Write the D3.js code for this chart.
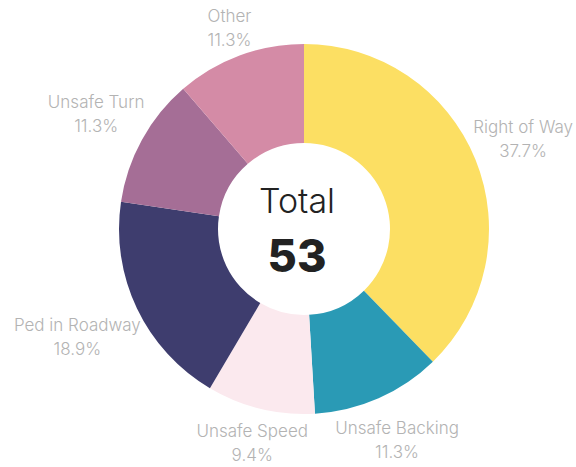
<!DOCTYPE html>
<html>
<meta charset="utf-8">
<style>
  body { margin: 0; background: #fff; }
  text { font-family: Inter, Roboto, "Noto Sans", sans-serif; }
</style>
<script src="https://d3js.org/d3.v7.min.js"></script>
<body>
<script>
  var svgWidth = 576, svgHeight = 467;

  var labels = ["Right of Way", "Unsafe Backing", "Unsafe Speed", "Ped in Roadway", "Unsafe Turn", "Other"];
  var counts = [20, 6, 5, 10, 6, 6];
  var colors = ["#fcdf63", "#2a9ab5", "#fbe9ee", "#3e3d6e", "#a56e96", "#d48ba6"];

  var total = d3.sum(counts);
  var data = labels.map(function(l, i){ return { label: l, value: counts[i] }; });

  var svg = d3.select("body").append("svg")
    .attr("width", svgWidth)
    .attr("height", svgHeight);

  var cx = 304, cy = 229;
  var outer = 185, inner = 86;

  var g = svg.append("g").attr("transform", "translate(" + cx + "," + cy + ")");

  var pie = d3.pie().sort(null).value(function(d){ return d.value; });
  var arc = d3.arc().outerRadius(outer).innerRadius(inner);
  var color = d3.scaleOrdinal(labels, colors);

  var slices = pie(data);

  g.selectAll(".slice")
    .data(slices)
    .enter()
    .append("path")
    .attr("class", "slice")
    .attr("d", arc)
    .attr("fill", function(d){ return color(d.data.label); });

  // labels sit outside the ring, on the slice's mid line, pushed out by their size
  var lr = 183;
  var fmt = d3.format(".1%");
  var lab = g.selectAll(".lab")
    .data(slices)
    .enter()
    .append("text")
    .attr("class", "lab")
    .attr("text-anchor", "middle")
    .attr("fill", "#b3b3b3")
    .style("font-size", "17px")
    .style("font-weight", 300);

  lab.append("tspan").attr("x", 0).attr("dy", 0).text(function(d){ return d.data.label; });
  lab.append("tspan").attr("x", 0).attr("dy", 24).text(function(d){ return fmt(d.value / total); });

  lab.attr("transform", function(d){
    var a = (d.startAngle + d.endAngle) / 2;
    var bb = this.getBBox();
    var hw = bb.width / 2, hh = 25;
    var s = Math.sin(a), c = Math.cos(a);
    var r = lr + hw * Math.abs(s) + hh * Math.abs(c);
    var x = s * r, y = -c * r;
    // keep inside the picture
    x = Math.min(x, svgWidth - cx - 3 - hw);
    x = Math.max(x, -cx + 3 + hw);
    var ox = x - (bb.x + hw), oy = y - (bb.y + bb.height / 2);
    return "translate(" + ox + "," + oy + ")";
  });

  g.append("text")
    .attr("text-anchor", "middle")
    .attr("x", -7)
    .attr("y", -16)
    .attr("fill", "#222")
    .style("font-size", "34px")
    .style("font-weight", 300)
    .text("Total");

  g.append("text")
    .attr("text-anchor", "middle")
    .attr("x", -7)
    .attr("y", 43)
    .attr("fill", "#222")
    .style("font-size", "45px")
    .style("font-weight", 800)
    .text(total);
</script>
</body>
</html>
